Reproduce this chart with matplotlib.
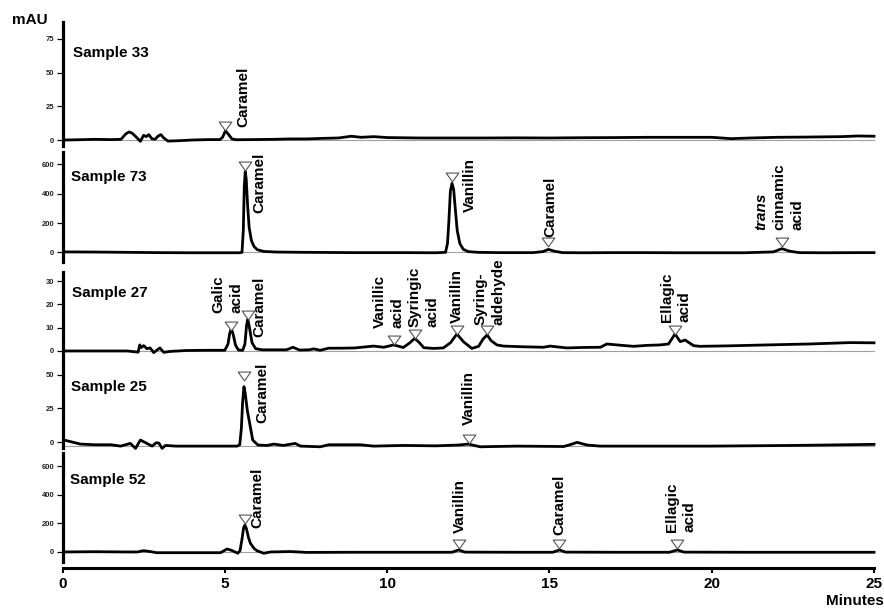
import matplotlib
matplotlib.use("Agg")
import matplotlib.pyplot as plt
from matplotlib.path import Path
from matplotlib.transforms import offset_copy, ScaledTranslation

plt.rcParams['font.family'] = ['Liberation Sans', 'DejaVu Sans']
plt.rcParams['font.weight'] = 'bold'

# ---------------------------------------------------------------- data
samples = ["Sample 33", "Sample 73", "Sample 27", "Sample 25", "Sample 52"]

# retention time (min) and absorbance (mAU) for each chromatogram
t33 = [0.1, 0.5, 1.0, 1.5, 1.8, 1.95, 2.05, 2.15, 2.3, 2.4, 2.5, 2.58, 2.66, 2.75,
       2.85, 2.95, 3.03, 3.12, 3.25, 3.6, 4.0, 4.5, 4.85, 4.93, 5.02, 5.12, 5.22,
       5.35, 5.8, 6.5, 7.0, 7.5, 8.0, 8.5, 8.9, 9.2, 9.6, 10.0, 11.0, 12.0, 13.0,
       14.0, 15.0, 16.0, 17.0, 18.0, 19.0, 20.0, 20.6, 21.2, 22.0, 23.0, 24.0,
       24.5, 25.0]
v33 = [0, 0.2, 0.5, 0.3, 0.5, 4.5, 6.0, 5.0, 1.5, -1.0, 3.5, 2.5, 4.0, 1.0,
       0.5, 3.0, 4.0, 1.5, -0.8, -0.5, 0, 0.3, 0.3, 2.0, 6.8, 4.0, 0.8,
       0.2, 0.3, 0.5, 0.8, 0.8, 1.2, 1.5, 2.8, 2.0, 2.5, 1.8, 1.5, 1.5, 1.5,
       1.6, 1.5, 1.7, 1.8, 2.0, 2.0, 2.0, 1.0, 1.5, 2.0, 2.2, 2.5,
       3.0, 2.8]

t73 = [0.05, 1, 2, 3, 4, 5, 5.45, 5.53, 5.57, 5.60, 5.63, 5.66, 5.70, 5.75,
       5.82, 5.9, 6.0, 6.2, 6.6, 7.5, 9, 10.5, 11.5, 11.8, 11.86, 11.9, 11.95,
       12.0, 12.05, 12.1, 12.16, 12.24, 12.35, 12.5, 12.8, 13.5, 14.5, 14.8,
       14.97, 15.15, 15.4, 16, 17, 18, 19, 20, 21, 21.9, 22.16, 22.4, 22.7,
       23.5, 24.5, 25]
v73 = [3, 2, 0, -2, -3, -3, -3, 0, 150, 450, 551, 500, 330, 170,
       80, 40, 18, 6, 2, 0, -2, -2, -3, 0, 60, 200, 420,
       471, 430, 300, 150, 60, 20, 5, 0, -2, -2, 5,
       20, 8, -2, -3, -2, -2, -3, -3, -3, 3, 25, 8, -2,
       -3, -2, -2]

t27 = [0.1, 1.0, 2.0, 2.33, 2.38, 2.43, 2.5, 2.6, 2.7, 2.81, 2.92, 3.0, 3.12,
       3.3, 3.8, 4.5, 5.0, 5.1, 5.15, 5.2, 5.26, 5.33, 5.42, 5.55, 5.62, 5.67,
       5.71, 5.76, 5.84, 5.95, 6.15, 6.5, 6.9, 7.1, 7.3, 7.6, 7.74, 7.94, 8.2,
       8.6, 9.0, 9.58, 9.9, 10.2, 10.5, 10.7, 10.85, 11.0, 11.13, 11.43, 11.73,
       11.95, 12.15, 12.35, 12.61, 12.82, 12.95, 13.08, 13.2, 13.38, 13.59,
       14.2, 14.82, 15.02, 15.54, 16.0, 16.57, 16.77, 17.08, 17.59, 18.0,
       18.41, 18.67, 18.87, 19.03, 19.18, 19.44, 19.64, 20.5, 21.7, 23.0,
       24.26, 25.0]
v27 = [0, 0, 0, -0.5, 2.6, 1.5, 2.3, 1.0, 1.3, -0.7, 0.5, 1.3, -0.6,
       -0.2, 0.2, 0.3, 0.3, 3, 7.5, 9.7, 7, 2.5, 0.4, 0.3, 3, 11,
       13.6, 10, 3.5, 1.0, 0.5, 0.5, 0.5, 1.6, 0.4, 0.5, 0.9, 0.3, 1.2,
       1.2, 1.3, 2.1, 1.6, 2.6, 1.5, 3.5, 5.4, 3.5, 1.4, 1.1, 1.3,
       3.5, 7.3, 4.0, 1.1, 2.0, 5.0, 6.9, 4.5, 2.6, 2.1,
       1.8, 1.6, 2.1, 1.3, 1.5, 1.6, 3.0, 2.6, 2.0, 2.4,
       2.6, 3.0, 7.3, 4.0, 4.7, 2.3, 2.0, 2.2, 2.6, 3.0,
       3.6, 3.5]

t25 = [0.04, 0.3, 0.55, 1.0, 1.5, 1.79, 2.09, 2.25, 2.4, 2.6, 2.76, 2.89, 2.97,
       3.07, 3.17, 3.5, 4.5, 5.38, 5.46, 5.51, 5.55, 5.59, 5.63, 5.69, 5.75,
       5.86, 6.02, 6.3, 6.51, 6.8, 7.17, 7.33, 7.94, 8.2, 9.18, 9.58, 10.5,
       11.5, 12.2, 12.5, 12.87, 14.0, 15.44, 15.7, 15.85, 16.16, 16.57, 18.0,
       20.0, 22.5, 23.5, 25.0]
v25 = [1.5, 0, -1.5, -2, -2, -3, -1, -4.7, 1.5, -1, -3, -0.5, -0.8,
       -4.7, -2.5, -3, -3, -3, -2, 10, 30, 41, 36, 24, 16,
       1.5, -2.2, -2.5, -1.5, -2.5, -1, -3, -3.5, -2, -2, -3, -2.5,
       -2.8, -2.2, -1.5, -3.5, -3, -3.3, -1.5, -0.2, -2.2, -3, -3,
       -3, -2.5, -2.2, -1.7]

t52 = [0.04, 1.0, 2.0, 2.3, 2.5, 2.7, 2.9, 3.5, 4.5, 4.87, 5.07, 5.2, 5.4, 5.47,
       5.53, 5.58, 5.62, 5.67, 5.73, 5.79, 5.9, 5.99, 6.2, 6.4, 7.02, 7.53, 9,
       11, 12.0, 12.2, 12.4, 14, 15.1, 15.31, 15.5, 17, 18.7, 18.94, 19.15, 21,
       23, 25]
v52 = [0, 2, 0, 0, 9, 3, -5, -5, -5, -5, 21, 12, -9, 10,
       90, 170, 188, 160, 100, 60, 25, 9, -9, 0, 3, -3, -2,
       -2, -2, 14, -1, -2, -2, 14, -1, -2, -2, 14, -1, -2,
       -2, -2]

times = [t33, t73, t27, t25, t52]
signals = [v33, v73, v27, v25, v52]
baseline_levels = [0, 0, 0, -3, 0]

yticks = [[0, 25, 50, 75], [0, 200, 400, 600], [0, 10, 20, 30],
          [0, 25, 50], [0, 200, 400, 600]]

# identified peaks: (compound, retention time, apex of the marker)
peak_names = [
    ["Caramel"],
    ["Caramel", "Vanillin", "Caramel", "trans cinnamic acid"],
    ["Galic acid", "Caramel", "Vanillic acid", "Syringic acid", "Vanillin",
     "Syringaldehyde", "Ellagic acid"],
    ["Caramel", "Vanillin"],
    ["Caramel", "Vanillin", "Caramel", "Ellagic acid"],
]
peak_times = [
    [5.02],
    [5.63, 12.0, 14.97, 22.16],
    [5.2, 5.71, 10.2, 10.85, 12.15, 13.08, 18.87],
    [5.58, 12.51],
    [5.62, 12.2, 15.3, 18.94],
]
peak_tips = [
    [7.4],
    [562, 482, 38, 42],
    [9.0, 13.6, 3.0, 5.4, 7.3, 6.9, 7.3],
    [45.4, -1],
    [200, 26, 26, 26],
]

# ---------------------------------------------------------------- layout
W, H = 884, 609
panel_px = [(22, 146), (152, 262), (272, 361), (364, 448), (453, 562)]
ylims = [(-4.45, 87.6), (-66, 685), (-4.3, 33.9), (-4.4, 57.8), (-70, 691)]
sample_pos = [(0.33, 64.6), (0.27, 517), (0.3, 24.7), (0.25, 41), (0.22, 502)]

# label anchors (time of first line, bottom of text) and text lines
label_layout = [
    [((5.57, 9.7), ["Caramel"])],
    [((6.07, 269), ["Caramel"]), ((12.56, 277), ["Vanillin"]),
     ((15.02, 107), ["Caramel"]), ((21.54, 152), ["trans", "cinnamic", "acid"])],
    [((4.81, 16.3), ["Galic", "acid"]), ((6.07, 6.1), ["Caramel"]),
     ((9.77, 9.7), ["Vanillic", "acid"]), ((10.85, 10.4), ["Syringic", "acid"]),
     ((12.15, 11.9), ["Vanillin"]), ((12.87, 11.1), ["Syring-", "aldehyde"]),
     ((18.62, 12.6), ["Ellagic", "acid"])],
    [((6.15, 13.9), ["Caramel"]), ((12.51, 12.6), ["Vanillin"])],
    [((5.99, 165), ["Caramel"]), ((12.25, 130), ["Vanillin"]),
     ((15.3, 119), ["Caramel"]), ((18.77, 142), ["Ellagic", "acid"])],
]
italic_words = {"trans"}

tri = Path([(-1, 0.7), (1, 0.7), (0, -0.7), (-1, 0.7)],
           [Path.MOVETO, Path.LINETO, Path.LINETO, Path.CLOSEPOLY])

fig = plt.figure(figsize=(W / 100, H / 100), dpi=100)
left = 62.5 / W
width = (874 - 62.5) / W

axes = []
for i in range(5):
    top, bot = panel_px[i]
    ax = fig.add_axes([left, 1 - bot / H, width, (bot - top) / H])
    axes.append(ax)
    ax.set_xlim(0, 25)
    ax.set_ylim(*ylims[i])
    ax.patch.set_alpha(0)
    for s in ("top", "right"):
        ax.spines[s].set_visible(False)
    ax.spines["left"].set_linewidth(2.3)
    ax.set_yticks(yticks[i])
    ax.tick_params(axis="y", direction="out", length=4.3, width=0.9,
                   labelsize=5.5, pad=1.5, labelcolor="#222222")

    ax.plot([0, 25], [baseline_levels[i]] * 2, color="#a0a0a0", lw=0.8,
            zorder=1, clip_on=False)
    ax.plot(times[i], signals[i], color="black", lw=2.0, zorder=3,
            clip_on=False, solid_joinstyle="round")

    tr = ax.transData + ScaledTranslation(0, 3.2 / 72, fig.dpi_scale_trans)
    ax.plot(peak_times[i], peak_tips[i], ls="none", marker=tri, ms=9.1,
            mfc="white", mec="#555555", mew=0.8, transform=tr,
            clip_on=False, zorder=4)

    for (tx, ty), lines in label_layout[i]:
        for k, line in enumerate(lines):
            ttr = offset_copy(ax.transData, fig=fig, x=k * 13, y=0,
                              units="points")
            ax.text(tx, ty, line, rotation=90, ha="center", va="bottom",
                    transform=ttr, fontsize=11, fontweight="bold",
                    fontstyle="italic" if line in italic_words else "normal",
                    zorder=5)

    sx, sy = sample_pos[i]
    ax.text(sx, sy, samples[i], ha="left", va="center", fontsize=11,
            fontweight="bold")

    if i < 4:
        ax.spines["bottom"].set_visible(False)
        ax.set_xticks([])
    else:
        ax.spines["bottom"].set_position(("outward", 4.3))
        ax.spines["bottom"].set_linewidth(2.2)
        ax.spines["bottom"].set_bounds(0, 25)
        ax.set_xticks([0, 5, 10, 15, 20, 25])
        ax.set_xticklabels(["0", "5", "10", "15", "20", "25"])
        ax.tick_params(axis="x", direction="out", length=3.6, width=1.5,
                       labelsize=11, pad=3)

fig.text(12 / W, 1 - 20 / H, "mAU", ha="left", va="center", fontsize=11,
         fontweight="bold")
fig.text(0.9995, 1 - 601 / H, "Minutes", ha="right", va="center",
         fontsize=11, fontweight="bold")

fig.savefig("out.png", dpi=100)
